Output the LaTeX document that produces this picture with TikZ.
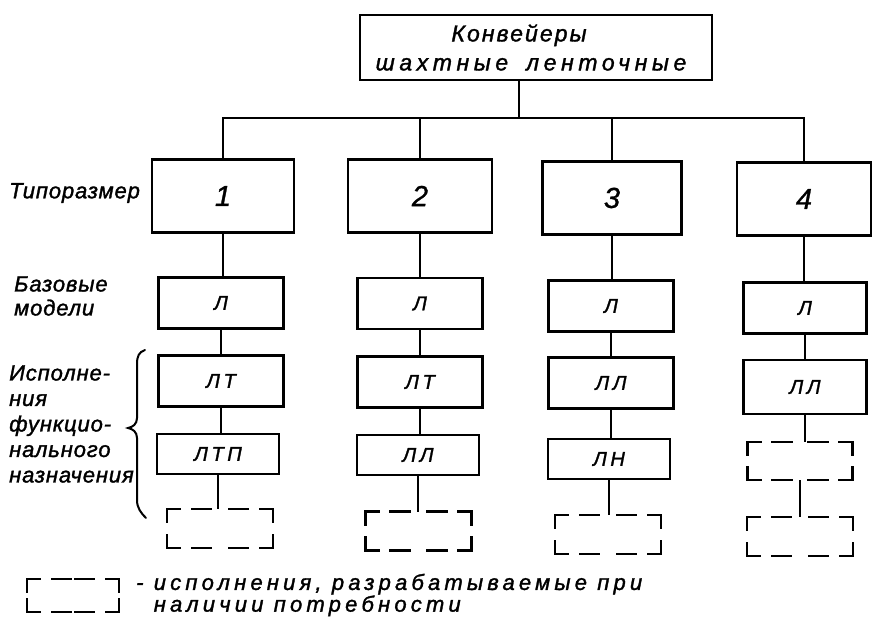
\documentclass[tikz,border=0pt]{standalone}
\usepackage{fontspec}
\setmainfont{Liberation Sans}
\newfontfamily\labf{Liberation Sans}[LetterSpace=4, FakeBold=1.5]
\newfontfamily\boxf{Liberation Sans}[LetterSpace=18, FakeBold=1.5]
\newfontfamily\numf{Liberation Sans}[FakeBold=1]
\newfontfamily\legf{Liberation Sans}[LetterSpace=19, FakeBold=1.5]
\newfontfamily\topfa{Liberation Sans}[LetterSpace=9, FakeBold=1.5]
\newfontfamily\topfb{Liberation Sans}[LetterSpace=20, FakeBold=1.5]
\begin{document}
\begin{tikzpicture}[x=1pt,y=-1pt,
  solidbox/.style={draw, line width=2.7pt, inner sep=0pt},
  dashside/.style={draw, line width=2.7pt, line cap=rect, dash pattern=on 13pt off 12pt on 19pt off 12pt},
  dbox/.style={inner sep=0pt, outer sep=0pt,
    append after command={
      (\tikzlastnode.north west) edge[dashside] (\tikzlastnode.north)
      (\tikzlastnode.north east) edge[dashside] (\tikzlastnode.north)
      (\tikzlastnode.south west) edge[dashside] (\tikzlastnode.south)
      (\tikzlastnode.south east) edge[dashside] (\tikzlastnode.south)
      (\tikzlastnode.north west) edge[dashside] (\tikzlastnode.west)
      (\tikzlastnode.south west) edge[dashside] (\tikzlastnode.west)
      (\tikzlastnode.north east) edge[dashside] (\tikzlastnode.east)
      (\tikzlastnode.south east) edge[dashside] (\tikzlastnode.east)
    }},
  link/.style={line width=2.3pt},
  numst/.style={font=\numf\fontsize{29}{32}\selectfont\itshape},
  ltr/.style={font=\boxf\fontsize{20}{24}\selectfont\itshape},
  lab/.style={inner sep=0pt},
  r1/.style={solidbox, minimum width=142pt, minimum height=73pt, numst},
  r2/.style={solidbox, minimum width=125pt, minimum height=51pt, ltr},
  r4/.style={solidbox, minimum width=122pt, minimum height=40pt, ltr},
  dsm/.style={dbox, minimum width=106pt, minimum height=39pt}
]
\useasboundingbox (0,0) rectangle (875,617);

% top box
\node[solidbox, minimum width=352pt, minimum height=65pt, align=center,
      font=\fontsize{23}{29}\selectfont\itshape] (top) at (536,47.5)
  {{\topfa\fontsize{23}{29}\selectfont\itshape Конвейеры\hspace*{34pt}}\\
   {\topfb\fontsize{23}{29}\selectfont\itshape шахтные\hspace{18pt}ленточные\hspace*{10pt}}};

% row 1
\node[r1] (t1) at (223,196) {1};
\node[r1, minimum width=144pt] (t2) at (420,196) {2};
\node[r1, minimum width=139pt] (t3) at (612,198) {3};
\node[r1, minimum width=134pt] (t4) at (804,199) {4};

% row 2
\node[r2] (b1) at (221,303) {Л};
\node[r2] (b2) at (420,303.5) {Л};
\node[r2] (b3) at (611,306) {Л};
\node[r2, minimum width=123pt] (b4) at (805,308) {Л};

% row 3
\node[r2] (e1) at (221,381) {ЛТ};
\node[r2] (e2) at (420,382) {ЛТ};
\node[r2] (e3) at (611,383) {ЛЛ};
\node[r2, minimum width=123pt, minimum height=54pt] (e4) at (805,387) {ЛЛ};

% row 4
\node[r4] (f1) at (218,454) {ЛТП};
\node[r4] (f2) at (418,455) {ЛЛ};
\node[r4] (f3) at (609,459) {ЛН};
\node[dsm, minimum width=105pt, minimum height=38pt] (f4) at (800,461) {};

% row 5
\node[dsm] (g1) at (220,528.5) {};
\node[dsm] (g2) at (418.5,531) {};
\node[dsm] (g3) at (608,534.5) {};
\node[dsm] (g4) at (800,536.5) {};

% bus
\coordinate (drop) at (519,118);
\draw[link] (top.south -| drop) -- (drop);
\draw[link] (t1.north) -- (t1.north |- drop) -- (t4.north |- drop) -- (t4.north);
\draw[link] (t2.north) -- (t2.north |- drop);
\draw[link] (t3.north) -- (t3.north |- drop);

% vertical links
\foreach \c in {1,2,3,4}{
  \draw[link] (t\c.south) -- (t\c.south |- b\c.north);
  \draw[link] (b\c.south) -- (b\c.south |- e\c.north);
  \draw[link] (e\c.south) -- (e\c.south |- f\c.north);
  \draw[link] (f\c.south) -- (f\c.south |- g\c.north);
}

% left labels
\node[lab, anchor=west, font=\labf\fontsize{22}{25}\selectfont\itshape] (typ) at (9,193) {Типоразмер};
\node[lab, anchor=west, align=left, font=\labf\fontsize{22}{24}\selectfont\itshape] (bas) at (14,296) {Базовые\\модели};
\node[lab, anchor=west, align=left, font=\labf\fontsize{22}{25.5}\selectfont\itshape] (isp) at (9,424)
  {Исполне-\\ния\\функцио-\\нального\\назначения};

% brace
\draw[line width=2pt, line cap=round] (145,350) .. controls (139,352) and (137,356) .. (137,364)
  -- (137,418) .. controls (137,424) and (133,427) .. (128,428)
  .. controls (133,429) and (137,432) .. (137,438)
  -- (137,500) .. controls (137,508) and (141,513) .. (146,518);

% legend
\node[dbox, minimum width=92pt, minimum height=33pt] (lg) at (73,595.5) {};
\node[anchor=west, align=left, inner sep=0pt, font=\legf\fontsize{22}{19}\selectfont\itshape] (lgt) at (136,595)
  {- исполнения, разрабатываемые при\\\hphantom{- }наличии потребности};
\end{tikzpicture}
\end{document}
